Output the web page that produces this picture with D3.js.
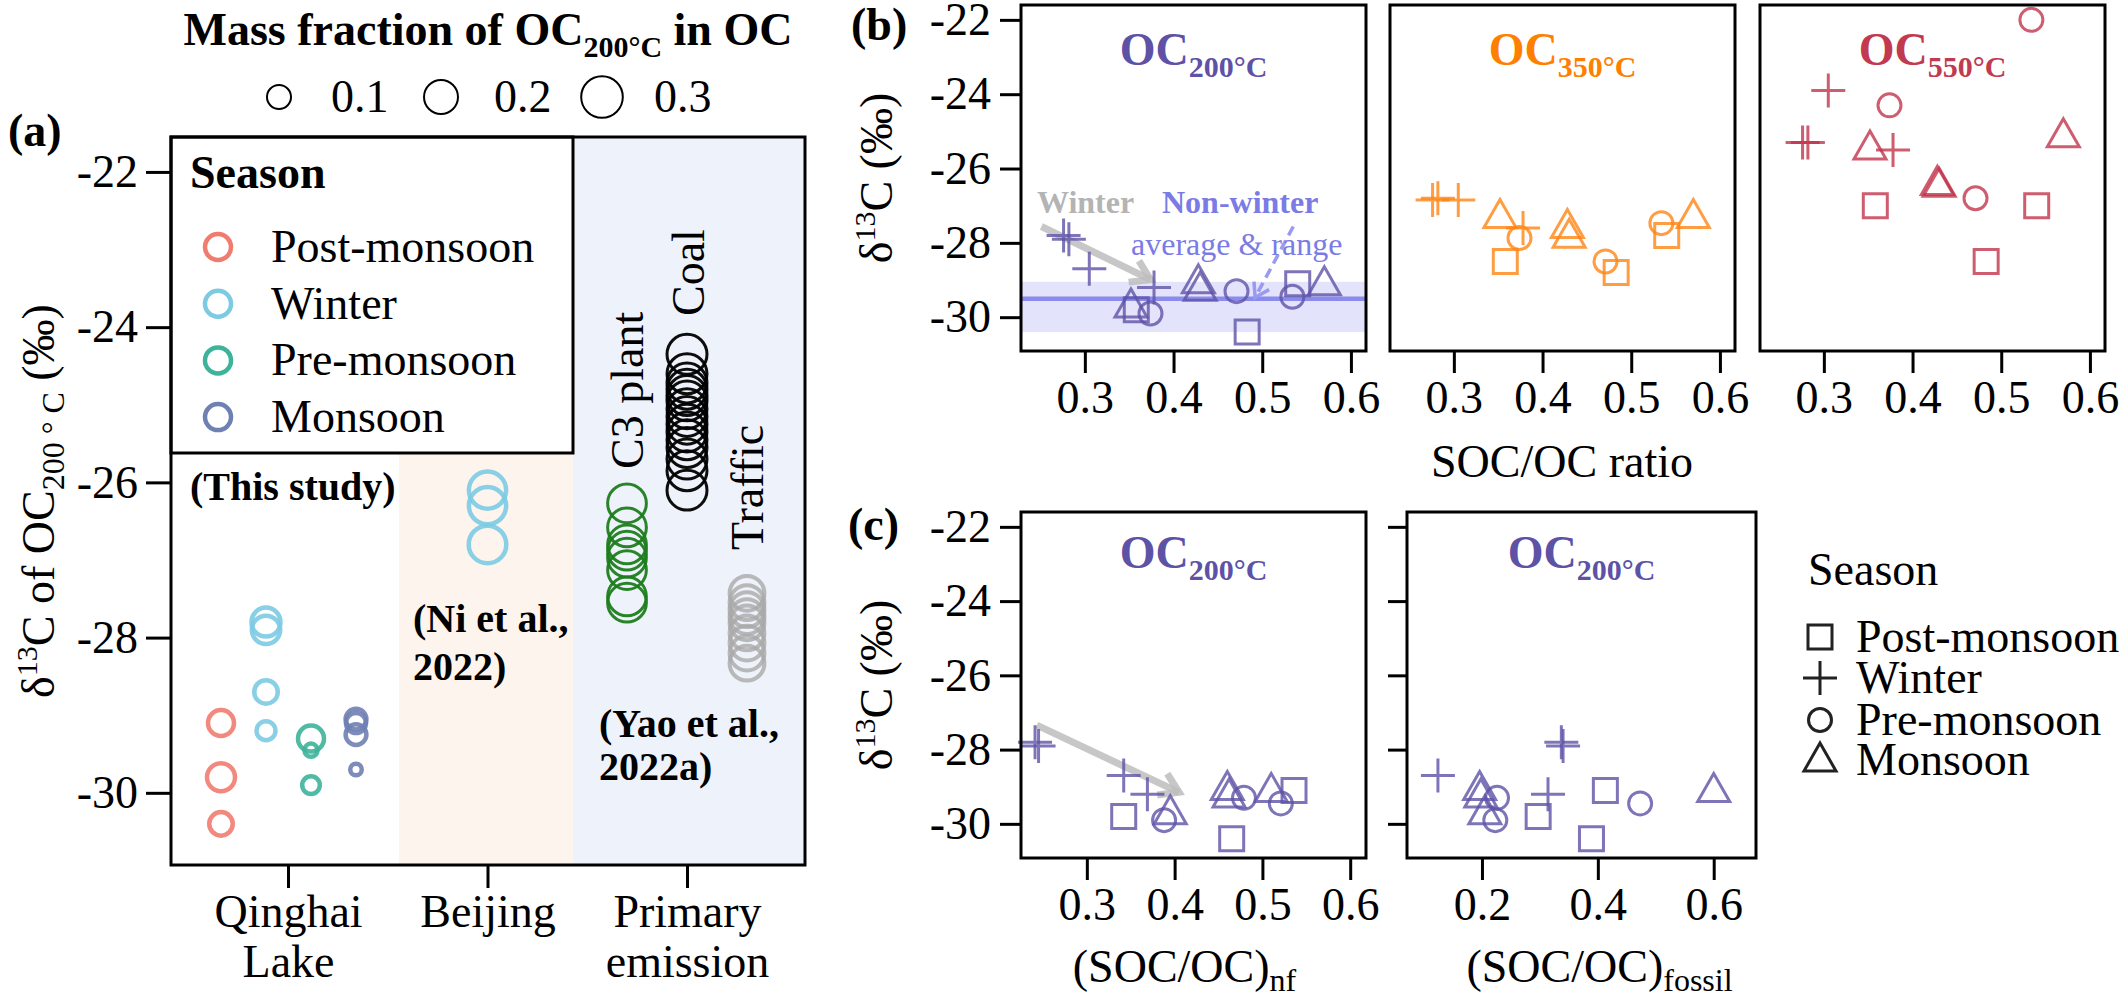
<!DOCTYPE html>
<html><head><meta charset="utf-8">
<script src="https://cdn.jsdelivr.net/npm/d3@7"></script>
<style>
body{margin:0;background:#fff}
svg{display:block}
text{font-family:"Liberation Serif","Times New Roman",serif}
</style>
</head><body>
<svg id="c" width="2128" height="1001"></svg>
<script>
// ---------------- DATA ----------------
const seasons = ["Post-monsoon","Winter","Pre-monsoon","Monsoon"];
const seasonColorsA = ["#f07c70","#7ccbe3","#3eb39b","#6f80b3"];
const seasonShapes = ["square","plus","circle","triangle"];

// per-sample values, grouped by season (same order in every array)
const d13C_OC200 = [[-29.1,-29.8,-30.4],[-27.8,-27.9,-28.7,-29.2],[-29.3,-29.45,-29.9],[-29.05,-29.25,-29.1,-29.7]];
const d13C_OC350 = [[-27.8,-28.5,-28.8],[-26.85,-26.8,-26.85,-27.6],[-28.5,-27.47,-27.87],[-27.56,-27.82,-27.29,-27.29]];
const d13C_OC550 = [[-27.0,-27.0,-28.5],[-25.3,-25.3,-23.9,-25.5],[-26.8,-22.0,-24.3],[-26.4,-26.45,-25.12,-25.45]];
const socOcRatio  = [[0.54,0.358,0.483],[0.276,0.282,0.305,0.378],[0.471,0.534,0.374],[0.428,0.43,0.57,0.352]];
const socOcNf     = [[0.536,0.342,0.465],[0.241,0.245,0.342,0.369],[0.479,0.521,0.388],[0.46,0.462,0.51,0.395]];
const socOcFossil = [[0.413,0.297,0.389],[0.337,0.34,0.124,0.314],[0.226,0.473,0.223],[0.196,0.198,0.6,0.205]];
const massFracOC200 = [[0.117,0.136,0.096],[0.146,0.14,0.096,0.0625],[0.117,0.03,0.054],[0.075,0.075,0.07,0.023]];

const refCategories = ["Qinghai Lake","Beijing","Primary emission"];
const refCategoryLines = [["Qinghai","Lake"],["Beijing"],["Primary","emission"]];
const beijingD13C = [-26.1,-26.3,-26.8];
const beijingMassFrac = [0.24,0.24,0.245];
const primarySources = ["C3 plant","Coal","Traffic"];
const primaryColors = ["#1e7d1e","#000000","#a9a9a9"];
const c3PlantD13C = [-26.27,-26.58,-26.8,-26.88,-26.97,-27.13,-27.47,-27.55];
const c3PlantMassFrac = [0.26,0.26,0.26,0.26,0.26,0.26,0.26,0.26];
const coalD13C = [-24.35,-24.6,-24.72,-24.8,-24.88,-24.95,-25.05,-25.15,-25.25,-25.35,-25.45,-25.55,-25.7,-25.85,-26.1];
const coalMassFrac = [0.277,0.277,0.277,0.277,0.277,0.277,0.277,0.277,0.277,0.277,0.277,0.277,0.277,0.277,0.277];
const trafficD13C = [-27.43,-27.55,-27.64,-27.73,-27.81,-27.94,-28.07,-28.2,-28.33];
const trafficMassFrac = [0.21,0.21,0.21,0.21,0.21,0.21,0.21,0.21,0.21];

const sizeLegendValues = [0.1,0.2,0.3];
const yTicks = [-22,-24,-26,-28,-30];
const xTicksRatio = [0.3,0.4,0.5,0.6];
const xTicksFossil = [0.2,0.4,0.6];

// ---------------- HELPERS ----------------
const svg = d3.select("#c");
const FS = 46;
function rich(parent, x, y, parts, o={}) {
  const t = parent.append("text").attr("x",x).attr("y",y)
    .attr("text-anchor", o.anchor||"start").attr("font-size", o.size||FS)
    .attr("font-weight", o.weight||"normal").attr("fill", o.fill||"#000");
  if (o.rotate) t.attr("transform", `rotate(${o.rotate},${x},${y})`);
  let shift = 0;
  parts.forEach(p => {
    const ts = t.append("tspan").text(p.t);
    const s = p.shift||0;
    if (s-shift !== 0) ts.attr("dy", s-shift);
    shift = s;
    if (p.size) ts.attr("font-size", p.size);
    if (p.weight) ts.attr("font-weight", p.weight);
  });
  return t;
}
function shapePath(s){
  switch(s){
    case "square": return "M-12,-12H12V12H-12Z";
    case "circle": return "M11.5,0A11.5,11.5 0 1,1 -11.5,0A11.5,11.5 0 1,1 11.5,0Z";
    case "triangle": return "M0,-17L16,11H-16Z";
    case "plus": return "M-17,0H17M0,-17V17";
  }
}
function styleAxis(g){
  g.attr("font-family",'"Liberation Serif","Times New Roman",serif').attr("font-size",FS);
  g.select(".domain").remove();
  g.selectAll(".tick line").attr("stroke","#000").attr("stroke-width",3);
  g.selectAll(".tick text").attr("fill","#000");
}
function arrow(g, x1,y1,x2,y2, color, width, opacity, dash, head){
  const a = Math.atan2(y2-y1,x2-x1);
  g.append("line").attr("x1",x1).attr("y1",y1).attr("x2",x2).attr("y2",y2)
    .attr("stroke",color).attr("stroke-width",width).attr("stroke-opacity",opacity)
    .attr("stroke-dasharray",dash||null);
  const p = [a+Math.PI*0.82, a-Math.PI*0.82].map(b=>[x2+head*Math.cos(b), y2+head*Math.sin(b)]);
  g.append("path").attr("d",`M${p[0][0]},${p[0][1]}L${x2},${y2}L${p[1][0]},${p[1][1]}`)
    .attr("fill","none").attr("stroke",color).attr("stroke-width",width).attr("stroke-opacity",opacity)
    .attr("stroke-linejoin","miter");
}
const samples = seasons.flatMap((s,i)=> d13C_OC200[i].map((v,j)=>({season:s,i,j,
  d200:v, d350:d13C_OC350[i][j], d550:d13C_OC550[i][j],
  ratio:socOcRatio[i][j], nf:socOcNf[i][j], fossil:socOcFossil[i][j], mf:massFracOC200[i][j],
  shape:seasonShapes[i]})));

// ---------------- PANEL A ----------------
const A = {x0:171,x1:805,y0:137,y1:865};
const yA = d3.scaleLinear().domain([-30.93,-21.55]).range([A.y1,A.y0]);
const xA = d3.scalePoint().domain(refCategories).range([288,687]);
const xSeasonA = d3.scalePoint().domain(seasons).range([-67,68]);
const xSourceA = d3.scalePoint().domain(primarySources).range([-60,60]);
const rA = d3.scaleSqrt().domain([0,0.3]).range([0,20.8]);
const gA = svg.append("g");
const legBottom = 453;
const bjL = xA("Beijing")-88.5, bjR = xA("Beijing")+85.5;
gA.append("rect").attr("x",bjL).attr("y",legBottom).attr("width",bjR-bjL).attr("height",A.y1-legBottom).attr("fill","#fdf4ed");
gA.append("rect").attr("x",bjR).attr("y",A.y0).attr("width",A.x1-bjR).attr("height",A.y1-A.y0).attr("fill","#eef2fa");
// legend box
gA.append("rect").attr("x",A.x0).attr("y",A.y0).attr("width",bjR-A.x0).attr("height",legBottom-A.y0)
  .attr("fill","#fff").attr("stroke","#000").attr("stroke-width",3);
rich(gA,190,188,[{t:"Season"}],{weight:"bold"});
seasons.forEach((s,i)=>{
  const cy = 247 + i*56.7;
  gA.append("circle").attr("cx",218).attr("cy",cy).attr("r",13).attr("fill","none")
    .attr("stroke",seasonColorsA[i]).attr("stroke-width",4.5);
  rich(gA,271,cy+15,[{t:s}]);
});
// Qinghai points
samples.forEach(d=>{
  gA.append("circle").attr("cx",xA("Qinghai Lake")+xSeasonA(d.season)).attr("cy",yA(d.d200))
    .attr("r",rA(d.mf)).attr("fill","none").attr("stroke",seasonColorsA[d.i])
    .attr("stroke-width",4.5).attr("stroke-opacity",0.9);
});
beijingD13C.forEach((v,j)=>{
  gA.append("circle").attr("cx",xA("Beijing")).attr("cy",yA(v)).attr("r",rA(beijingMassFrac[j]))
    .attr("fill","none").attr("stroke",seasonColorsA[1]).attr("stroke-width",4.5).attr("stroke-opacity",0.9);
});
[[c3PlantD13C,c3PlantMassFrac],[coalD13C,coalMassFrac],[trafficD13C,trafficMassFrac]].forEach(([vals,mfs],k)=>{
  vals.forEach((v,j)=>{
    gA.append("circle").attr("cx",xA("Primary emission")+xSourceA(primarySources[k])).attr("cy",yA(v))
      .attr("r",rA(mfs[j])).attr("fill","none").attr("stroke",primaryColors[k])
      .attr("stroke-width",k===2?4:3).attr("stroke-opacity",k===2?0.8:0.95);
  });
});
// source labels (rotated)
rich(gA,643,469,[{t:"C3 plant"}],{rotate:-90});
rich(gA,704,316,[{t:"Coal"}],{rotate:-90});
rich(gA,763,550,[{t:"Traffic"}],{rotate:-90});
// study labels
rich(gA,190,500,[{t:"(This study)"}],{weight:"bold",size:40});
rich(gA,413,632,[{t:"(Ni et al.,"}],{weight:"bold",size:40});
rich(gA,413,680,[{t:"2022)"}],{weight:"bold",size:40});
rich(gA,599,737,[{t:"(Yao et al.,"}],{weight:"bold",size:40});
rich(gA,599,780,[{t:"2022a)"}],{weight:"bold",size:40});
// frame
gA.append("rect").attr("x",A.x0).attr("y",A.y0).attr("width",A.x1-A.x0).attr("height",A.y1-A.y0)
  .attr("fill","none").attr("stroke","#000").attr("stroke-width",3);
// axes
gA.append("g").attr("transform",`translate(${A.x0},0)`)
  .call(d3.axisLeft(yA).tickValues(yTicks).tickSize(25).tickPadding(8).tickFormat(d=>String(d)))
  .call(styleAxis);
const axA = gA.append("g").attr("transform",`translate(0,${A.y1})`)
  .call(d3.axisBottom(xA).tickSize(23).tickPadding(6)).call(styleAxis);
axA.selectAll(".tick text").each(function(d){
  const el = d3.select(this).text(null).attr("dy",null).attr("y",62);
  refCategoryLines[refCategories.indexOf(d)].forEach((l,i)=>el.append("tspan").attr("x",0).attr("dy",i?50:0).text(l));
});
// y title
rich(gA,54,501,[{t:"δ"},{t:"13",size:30,shift:-17},{t:"C of OC"},{t:"200 ° C",size:32,shift:10},{t:" (‰)"}],{rotate:-90,anchor:"middle"});
// (a)
rich(gA,8,146,[{t:"(a)"}],{weight:"bold"});
// size legend
rich(gA,488,45,[{t:"Mass fraction of OC"},{t:"200°C",size:30,shift:12},{t:" in OC"}],{weight:"bold",anchor:"middle"});
const sizeLegX = [279,441,602], sizeLabX=[331,494,654];
sizeLegendValues.forEach((v,i)=>{
  gA.append("circle").attr("cx",sizeLegX[i]).attr("cy",97).attr("r",rA(v)).attr("fill","none").attr("stroke","#000").attr("stroke-width",2);
  rich(gA,sizeLabX[i],112,[{t:d3.format(".1f")(v)}]);
});

// ---------------- PANELS B & C ----------------
const purple="#5e52a6", orange="#ff8514", crimson="#c2344c";
const BW=345;
const bPanels = [
  {left:1021, key:"d200", color:purple, title:"200", titleColor:"#5e52a6", ylabels:true},
  {left:1390, key:"d350", color:orange, title:"350", titleColor:"#ff8000", ylabels:false},
  {left:1760, key:"d550", color:crimson, title:"550", titleColor:"#c23a50", ylabels:false}
];
const yB = d3.scaleLinear().domain([-30.91,-21.6]).range([351,5]);
const xB = d3.scaleLinear().domain([0.228,0.617]).range([0,BW]);
bPanels.forEach((p,k)=>{
  const g = svg.append("g").attr("transform",`translate(${p.left},0)`);
  if (k===0){
    const nonWinter = samples.filter(d=>d.season!=="Winter").map(d=>d.d200);
    const ext = d3.extent(nonWinter), mean = d3.mean(nonWinter);
    g.append("rect").attr("x",0).attr("width",BW).attr("y",yB(ext[1])).attr("height",yB(ext[0])-yB(ext[1]))
      .attr("fill","#dcdcfa").attr("fill-opacity",0.8);
    g.append("line").attr("x1",0).attr("x2",BW).attr("y1",yB(mean)).attr("y2",yB(mean))
      .attr("stroke","#8b8bee").attr("stroke-width",4.5);
    arrow(g, xB(0.251), yB(-27.56), xB(0.374), yB(-28.99), "#bdbdbd", 7, 0.85, null, 22);
  }
  g.selectAll("path.m").data(samples).join("path").attr("class","m")
    .attr("d",d=>shapePath(d.shape)).attr("transform",d=>`translate(${xB(d.ratio)},${yB(d[p.key])})`)
    .attr("fill","none").attr("stroke",p.color).attr("stroke-width",3).attr("stroke-opacity",0.8);
  if (k===0){
    arrow(g, xB(0.535), yB(-27.56), xB(0.492), yB(-29.47), "#9a9af0", 3.5, 1, "10,6", 16);
    rich(g,16,213,[{t:"Winter"}],{weight:"bold",size:32,fill:"#b4b4b4"});
    rich(g,141,213,[{t:"Non-winter"}],{weight:"bold",size:32,fill:"#7b7be6"});
    rich(g,110,255,[{t:"average & range"}],{size:32,fill:"#7b7be6"});
  }
  rich(g,BW/2,65,[{t:"OC"},{t:p.title+"°C",size:30,shift:12}],{weight:"bold",anchor:"middle",fill:p.titleColor});
  g.append("rect").attr("x",0).attr("y",5).attr("width",BW).attr("height",346).attr("fill","none").attr("stroke","#000").attr("stroke-width",3);
  g.append("g").attr("transform","translate(0,351)")
    .call(d3.axisBottom(xB).tickValues(xTicksRatio).tickSize(22).tickPadding(7).tickFormat(d3.format(".1f"))).call(styleAxis);
  if (p.ylabels) g.append("g").call(d3.axisLeft(yB).tickValues(yTicks).tickSize(21).tickPadding(9).tickFormat(d=>String(d))).call(styleAxis);
});
rich(svg,851,40,[{t:"(b)"}],{weight:"bold"});
rich(svg,892,178,[{t:"δ"},{t:"13",size:30,shift:-17},{t:"C (‰)"}],{rotate:-90,anchor:"middle"});
rich(svg,1562,477,[{t:"SOC/OC ratio"}],{anchor:"middle"});

// panel c
const yC = d3.scaleLinear().domain([-30.92,-21.6]).range([858,512]);
const cPanels = [
  {left:1021, width:345, key:"nf", domain:[0.225,0.618], ticks:xTicksRatio, sub:"nf", ylabels:true},
  {left:1407, width:349, key:"fossil", domain:[0.0706,0.673], ticks:xTicksFossil, sub:"fossil", ylabels:false}
];
cPanels.forEach((p,k)=>{
  const g = svg.append("g").attr("transform",`translate(${p.left},0)`);
  const x = d3.scaleLinear().domain(p.domain).range([0,p.width]);
  if (k===0) arrow(g, x(0.243), yC(-27.34), x(0.405), yC(-29.15), "#bdbdbd", 7, 0.85, null, 22);
  g.selectAll("path.m").data(samples).join("path").attr("class","m")
    .attr("d",d=>shapePath(d.shape)).attr("transform",d=>`translate(${x(d[p.key])},${yC(d.d200)})`)
    .attr("fill","none").attr("stroke",purple).attr("stroke-width",3).attr("stroke-opacity",0.8);
  rich(g,p.width/2,568,[{t:"OC"},{t:"200°C",size:30,shift:12}],{weight:"bold",anchor:"middle",fill:"#5e52a6"});
  g.append("rect").attr("x",0).attr("y",512).attr("width",p.width).attr("height",346).attr("fill","none").attr("stroke","#000").attr("stroke-width",3);
  g.append("g").attr("transform","translate(0,858)")
    .call(d3.axisBottom(x).tickValues(p.ticks).tickSize(22).tickPadding(7).tickFormat(d3.format(".1f"))).call(styleAxis);
  g.append("g").call(d3.axisLeft(yC).tickValues(yTicks).tickSize(p.ylabels?21:19).tickPadding(9)
    .tickFormat(p.ylabels?(d=>String(d)):(()=>""))).call(styleAxis);
  rich(g,p.width/2+(k?18:-9),982,[{t:"(SOC/OC)"},{t:p.sub,size:32,shift:9}],{anchor:"middle"});
});
rich(svg,848,540,[{t:"(c)"}],{weight:"bold"});
rich(svg,892,685,[{t:"δ"},{t:"13",size:30,shift:-17},{t:"C (‰)"}],{rotate:-90,anchor:"middle"});

// season shape legend
rich(svg,1808,585,[{t:"Season"}]);
seasons.forEach((s,i)=>{
  const cy = [637,678,720,760][i];
  svg.append("path").attr("d",shapePath(seasonShapes[i])).attr("transform",`translate(1820,${cy})`)
    .attr("fill","none").attr("stroke","#222").attr("stroke-width",3);
  rich(svg,1856,cy+15,[{t:s}]);
});
</script>
</body></html>
